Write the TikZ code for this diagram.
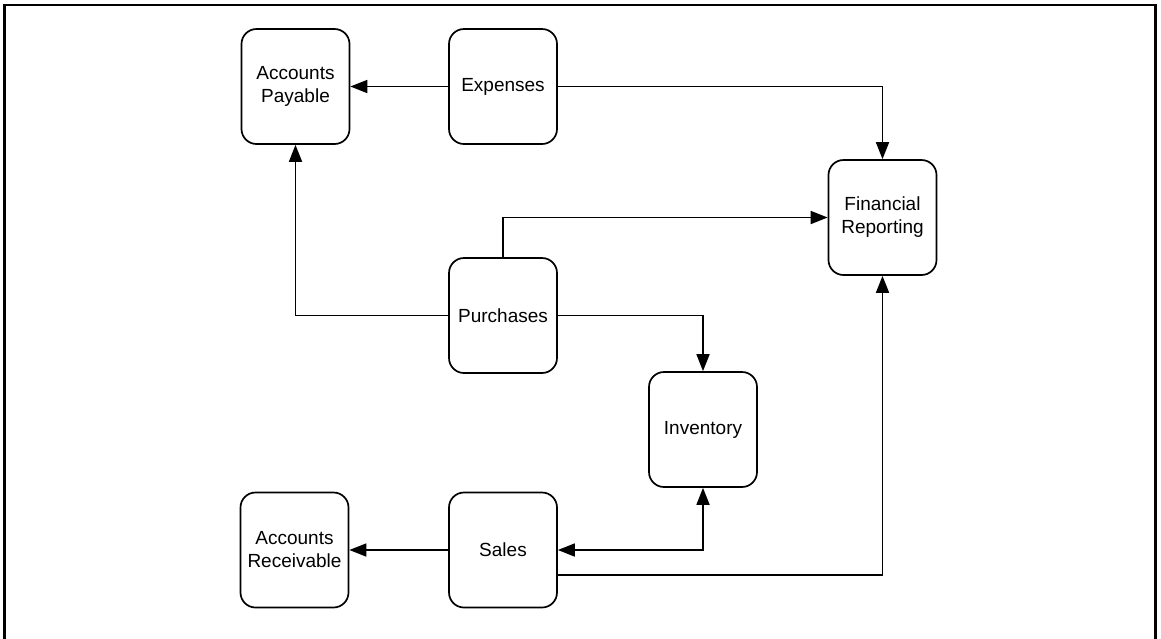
\documentclass[tikz,border=0pt]{standalone}
\usepackage{fontspec}
\setmainfont{Liberation Sans}
\usetikzlibrary{arrows.meta}
\begin{document}
\begin{tikzpicture}[x=1pt,y=-1pt,
  box/.style={draw,line width=1.7pt,rounded corners=15pt,minimum width=108pt,
    minimum height=115pt,inner sep=0pt,align=center,
    font=\fontsize{19}{23}\selectfont},
  flow/.style={line width=1.7pt,-{Triangle[length=17pt,width=13pt]}},
  flowboth/.style={line width=1.7pt,{Triangle[length=17pt,width=13pt]}-{Triangle[length=17pt,width=13pt]}}]
\useasboundingbox (0,0) rectangle (1161,638);
% outer frame (open at the bottom edge of the page)
\draw[line width=2.2pt] (4.5,650) -- (4.5,5) -- (1155.5,5) -- (1155.5,650);

% ledgers and modules
\node[box] (ap)  at (295.5,86.5) {Accounts\\Payable};
\node[box] (exp) at (503,86.5)   {Expenses};
\node[box] (fr)  at (882.5,217.5) {Financial\\Reporting};
\node[box] (pur) at (503,315.5)  {Purchases};
\node[box] (inv) at (703,429.5)  {Inventory};
\node[box] (ar)  at (294.5,550)  {Accounts\\Receivable};
\node[box] (sal) at (503,550)    {Sales};

% flows between modules
\draw[flow] (exp.west) -- (ap.east);
\draw[flow] (exp.east) -| (fr.north);
\draw[flow] (pur.north) |- (fr.west);
\draw[flow] (pur.west) -| (ap.south);
\draw[flow] (pur.east) -| (inv.north);
\draw[flow] (sal.west) -- (ar.east);
\draw[flowboth] (inv.south) |- (sal.east);
\draw[flow] ([yshift=-25pt]sal.east) -| (fr.south);
\end{tikzpicture}
\end{document}
